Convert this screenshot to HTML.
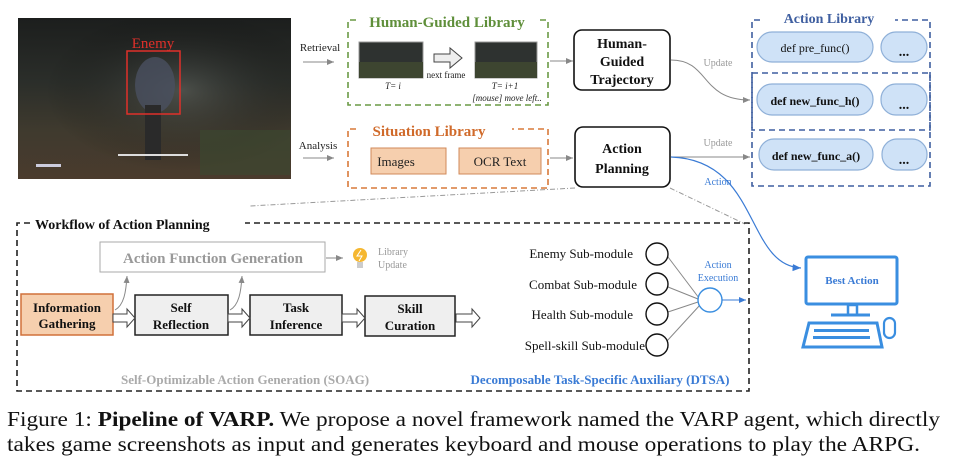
<!DOCTYPE html>
<html><head><meta charset="utf-8"><style>
html,body{margin:0;padding:0;background:#fff;}
svg{display:block;}
text{font-family:"Liberation Serif",serif;}
</style></head><body>
<svg width="960" height="469" viewBox="0 0 960 469" xmlns="http://www.w3.org/2000/svg">
<defs>
<linearGradient id="game" x1="0" y1="0" x2="0" y2="1">
<stop offset="0" stop-color="#1c1e1d"/><stop offset="0.4" stop-color="#2b2e2a"/><stop offset="0.7" stop-color="#3f3a2e"/><stop offset="1" stop-color="#4a3b2d"/>
</linearGradient>
<radialGradient id="lite" cx="0.6" cy="0.45" r="0.5"><stop offset="0" stop-color="#6a6f6a" stop-opacity="0.5"/><stop offset="1" stop-color="#000" stop-opacity="0"/></radialGradient>
<marker id="ag" markerWidth="8" markerHeight="8" refX="7" refY="4" orient="auto"><path d="M0,1 L7,4 L0,7 z" fill="#888"/></marker>
<marker id="ab" markerWidth="8" markerHeight="8" refX="7" refY="4" orient="auto"><path d="M0,1 L7,4 L0,7 z" fill="#3a7bd5"/></marker>
</defs>
<!-- game screenshot -->
<rect x="18" y="18" width="273" height="161" fill="url(#game)"/>
<rect x="18" y="18" width="273" height="161" fill="url(#lite)"/>
<rect x="200" y="130" width="90" height="45" fill="#3c4a30" opacity="0.6"/>
<ellipse cx="155" cy="85" rx="20" ry="28" fill="#4a5060" opacity="0.8"/>
<rect x="145" y="105" width="16" height="55" fill="#2a2a2a"/>
<rect x="127" y="51" width="53" height="63" fill="none" stroke="#e0302a" stroke-width="1.5"/>
<text x="153" y="48" font-size="15" fill="#e0302a" text-anchor="middle">Enemy</text>
<rect x="118" y="154" width="70" height="2" fill="#ddd"/>
<rect x="36" y="164" width="25" height="3" fill="#ccd"/>
<!-- retrieval / analysis -->
<text x="320" y="51" font-size="11" text-anchor="middle" fill="#222">Retrieval</text>
<line x1="303" y1="62" x2="334" y2="62" stroke="#888" marker-end="url(#ag)"/>
<text x="318" y="149" font-size="11" text-anchor="middle" fill="#222">Analysis</text>
<line x1="303" y1="158" x2="334" y2="158" stroke="#888" marker-end="url(#ag)"/>
<!-- Human guided library -->
<path d="M356,20 L348,20 L348,105 L548,105 L548,20 L540,20" fill="none" stroke="#6a9a45" stroke-width="1.6" stroke-dasharray="6,4"/>
<text x="447" y="27" font-size="15" font-weight="bold" fill="#5f8f3a" text-anchor="middle">Human-Guided Library</text>
<rect x="359" y="42" width="64" height="36" fill="#2e3230" stroke="#999"/>
<rect x="475" y="42" width="62" height="36" fill="#2e3230" stroke="#999"/>
<rect x="359" y="62" width="64" height="16" fill="#3d4530"/>
<rect x="475" y="62" width="62" height="16" fill="#3d4530"/>
<path d="M434,54 L450,54 L450,48 L462,58 L450,68 L450,62 L434,62 z" fill="#eee" stroke="#444"/>
<text x="446" y="78" font-size="9" text-anchor="middle" fill="#222">next frame</text>
<text x="393" y="89" font-size="9" font-style="italic" text-anchor="middle" fill="#222">T= i</text>
<text x="505" y="89" font-size="9" font-style="italic" text-anchor="middle" fill="#222">T= i+1</text>
<text x="507" y="101" font-size="9" font-style="italic" text-anchor="middle" fill="#222">[mouse] move left..</text>
<!-- Situation library -->
<path d="M356,129 L348,129 L348,188 L548,188 L548,129 L512,129" fill="none" stroke="#d87a3a" stroke-width="1.6" stroke-dasharray="6,4"/>
<text x="429" y="136" font-size="15" font-weight="bold" fill="#d06a2a" text-anchor="middle">Situation Library</text>
<rect x="371" y="148" width="75" height="26" fill="#f6cfae" stroke="#d08a5a"/>
<text x="396" y="166" font-size="13" text-anchor="middle" fill="#222">Images</text>
<rect x="459" y="148" width="82" height="26" fill="#f6cfae" stroke="#d08a5a"/>
<text x="500" y="166" font-size="13" text-anchor="middle" fill="#222">OCR Text</text>
<line x1="550" y1="61" x2="573" y2="61" stroke="#888" marker-end="url(#ag)"/>
<line x1="550" y1="158" x2="573" y2="158" stroke="#888" marker-end="url(#ag)"/>
<!-- center boxes -->
<rect x="574" y="30" width="96" height="60" rx="8" fill="#fff" stroke="#111" stroke-width="1.6"/>
<text font-size="14" font-weight="bold" text-anchor="middle" fill="#111"><tspan x="622" y="48">Human-</tspan><tspan x="622" y="66">Guided</tspan><tspan x="622" y="84">Trajectory</tspan></text>
<rect x="575" y="127" width="95" height="60" rx="8" fill="#fff" stroke="#111" stroke-width="1.6"/>
<text font-size="14" font-weight="bold" text-anchor="middle" fill="#111"><tspan x="622" y="153">Action</tspan><tspan x="622" y="173">Planning</tspan></text>
<!-- updates -->
<path d="M671,60 C710,60 700,100 750,100" fill="none" stroke="#888" marker-end="url(#ag)"/>
<text x="718" y="66" font-size="10" fill="#999" text-anchor="middle">Update</text>
<line x1="671" y1="157" x2="750" y2="157" stroke="#888" marker-end="url(#ag)"/>
<text x="718" y="146" font-size="10" fill="#999" text-anchor="middle">Update</text>
<path d="M671,157 C760,160 745,265 801,268" fill="none" stroke="#3a7bd5" stroke-width="1.2" marker-end="url(#ab)"/>
<text x="718" y="185" font-size="10" fill="#3a7bd5" text-anchor="middle">Action</text>
<!-- Action library -->
<path d="M760,20 L752,20 L752,186 L930,186 L930,20 L895,20" fill="none" stroke="#3f5fa0" stroke-width="1.6" stroke-dasharray="6,4"/>
<text x="829" y="23" font-size="14" font-weight="bold" fill="#3f5fa0" text-anchor="middle">Action Library</text>
<rect x="752" y="73" width="178" height="57" fill="none" stroke="#3f5fa0" stroke-width="1.6" stroke-dasharray="6,4"/>
<g fill="#cfe2f7" stroke="#8fb0d8" stroke-width="1.2">
<rect x="757" y="32" width="116" height="30" rx="15"/><rect x="881" y="32" width="46" height="30" rx="15"/>
<rect x="757" y="84" width="116" height="31" rx="15"/><rect x="881" y="84" width="46" height="31" rx="15"/>
<rect x="759" y="139" width="114" height="31" rx="15"/><rect x="882" y="139" width="45" height="31" rx="15"/>
</g>
<text x="815" y="52" font-size="12" text-anchor="middle" fill="#111">def pre_func()</text>
<text x="815" y="105" font-size="12" font-weight="bold" text-anchor="middle" fill="#111">def new_func_h()</text>
<text x="816" y="160" font-size="12" font-weight="bold" text-anchor="middle" fill="#111">def new_func_a()</text>
<text x="904" y="56" font-size="14" font-weight="bold" text-anchor="middle" fill="#111">...</text>
<text x="904" y="109" font-size="14" font-weight="bold" text-anchor="middle" fill="#111">...</text>
<text x="904" y="164" font-size="14" font-weight="bold" text-anchor="middle" fill="#111">...</text>
<!-- dash-dot -->
<path d="M575,188 L250,206" fill="none" stroke="#999" stroke-dasharray="5,2,1,2"/>
<path d="M670,188 L745,224" fill="none" stroke="#999" stroke-dasharray="5,2,1,2"/>
<!-- workflow box -->
<path d="M30,223 L17,223 L17,391 L749,391 L749,223 L245,223" fill="none" stroke="#222" stroke-width="1.6" stroke-dasharray="6,4"/>
<text x="35" y="229" font-size="14" font-weight="bold" fill="#111">Workflow of Action Planning</text>
<rect x="100" y="242" width="225" height="30" fill="#fff" stroke="#aaa"/>
<text x="213" y="263" font-size="15" font-weight="bold" fill="#999" text-anchor="middle">Action Function Generation</text>
<line x1="326" y1="258" x2="343" y2="258" stroke="#888" marker-end="url(#ag)"/>
<circle cx="360" cy="255" r="7" fill="#f5b730"/><rect x="357" y="262" width="6" height="6" fill="#ccc"/>
<path d="M361,250 L357,256 L362,256 L359,261" stroke="#fff" fill="none" stroke-width="1"/>
<text font-size="10" fill="#999"><tspan x="378" y="255">Library</tspan><tspan x="378" y="268">Update</tspan></text>
<rect x="21" y="294" width="92" height="41" fill="#f6cfae" stroke="#d0703a" stroke-width="1.5"/>
<text font-size="13" font-weight="bold" text-anchor="middle" fill="#111"><tspan x="67" y="312">Information</tspan><tspan x="67" y="328">Gathering</tspan></text>
<g fill="#efefef" stroke="#222" stroke-width="1.5">
<rect x="135" y="295" width="93" height="40"/><rect x="250" y="295" width="92" height="40"/><rect x="365" y="296" width="90" height="40"/>
</g>
<text font-size="13" font-weight="bold" text-anchor="middle" fill="#111"><tspan x="181" y="312">Self</tspan><tspan x="181" y="329">Reflection</tspan><tspan x="296" y="312">Task</tspan><tspan x="296" y="329">Inference</tspan><tspan x="410" y="313">Skill</tspan><tspan x="410" y="330">Curation</tspan></text>
<g fill="#fff" stroke="#444" stroke-width="1">
<path d="M113,314 L127,314 L127,309 L135,318 L127,327 L127,322 L113,322 z"/>
<path d="M228,314 L242,314 L242,309 L250,318 L242,327 L242,322 L228,322 z"/>
<path d="M342,314 L357,314 L357,309 L365,318 L357,327 L357,322 L342,322 z"/>
<path d="M456,314 L472,314 L472,309 L480,318 L472,327 L472,322 L456,322 z"/>
</g>
<path d="M115,310 C124,305 126,292 127,276" fill="none" stroke="#888" marker-end="url(#ag)"/>
<path d="M230,310 C239,305 241,292 242,276" fill="none" stroke="#888" marker-end="url(#ag)"/>
<text x="245" y="384" font-size="13" font-weight="bold" fill="#aaa" text-anchor="middle">Self-Optimizable Action Generation (SOAG)</text>
<text x="600" y="384" font-size="13" font-weight="bold" fill="#3a7bd5" text-anchor="middle">Decomposable Task-Specific Auxiliary (DTSA)</text>
<!-- submodules -->
<g font-size="13" fill="#111" text-anchor="end">
<text x="633" y="258">Enemy Sub-module</text><text x="637" y="289">Combat Sub-module</text><text x="633" y="319">Health Sub-module</text><text x="645" y="350">Spell-skill Sub-module</text>
</g>
<g stroke="#888" stroke-width="1"><line x1="668" y1="257" x2="699" y2="298"/><line x1="668" y1="287" x2="698" y2="299"/><line x1="668" y1="312" x2="698" y2="302"/><line x1="667" y1="341" x2="700" y2="305"/></g>
<g fill="#fff" stroke="#111" stroke-width="1.4"><circle cx="657" cy="254" r="11"/><circle cx="657" cy="284" r="11"/><circle cx="657" cy="314" r="11"/><circle cx="657" cy="345" r="11"/></g>
<circle cx="710" cy="300" r="12" fill="#fff" stroke="#3a8ee0" stroke-width="1.4"/>
<text font-size="10" fill="#3a7bd5" text-anchor="middle"><tspan x="718" y="268">Action</tspan><tspan x="718" y="281">Execution</tspan></text>
<line x1="722" y1="300" x2="746" y2="300" stroke="#3a7bd5" marker-end="url(#ab)"/>
<!-- computer -->
<rect x="806" y="257" width="91" height="47" rx="2" fill="#fff" stroke="#3a8ee0" stroke-width="3"/>
<text x="852" y="284" font-size="11" font-weight="bold" fill="#3a7bd5" text-anchor="middle">Best Action</text>
<rect x="848" y="305" width="9" height="10" fill="none" stroke="#3a8ee0" stroke-width="2.5"/>
<line x1="831" y1="315" x2="870" y2="315" stroke="#3a8ee0" stroke-width="3"/>
<path d="M809,323 L877,323 L882,347 L803,347 z" fill="none" stroke="#3a8ee0" stroke-width="3"/>
<g fill="#3a8ee0"><rect x="814" y="329" width="55" height="3"/><rect x="813" y="336" width="57" height="3"/></g>
<rect x="884" y="318" width="11" height="20" rx="5.5" fill="none" stroke="#3a8ee0" stroke-width="2.2"/>
<!-- caption -->
<text x="7" y="426" font-size="21" fill="#111" textLength="933" lengthAdjust="spacingAndGlyphs">Figure 1: <tspan font-weight="bold">Pipeline of VARP.</tspan> We propose a novel framework named the VARP agent, which directly</text>
<text x="7" y="451" font-size="21" fill="#111" textLength="913" lengthAdjust="spacingAndGlyphs">takes game screenshots as input and generates keyboard and mouse operations to play the ARPG.</text>
</svg>
</body></html>
